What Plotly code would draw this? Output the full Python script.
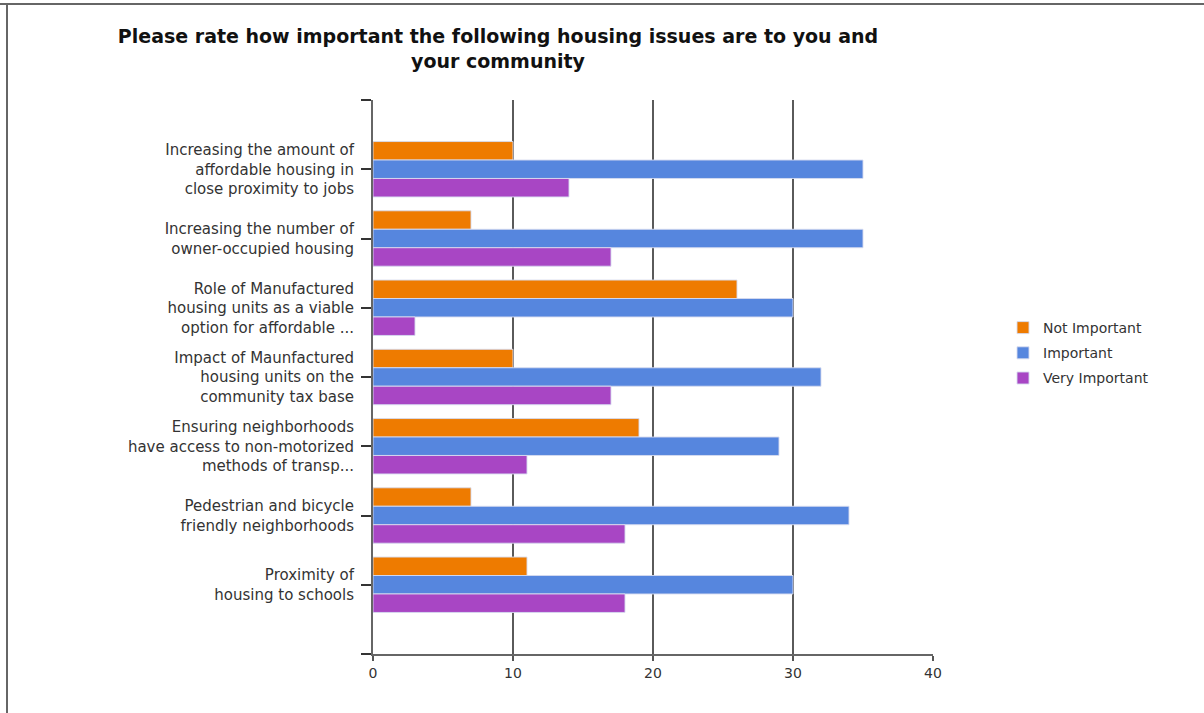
import plotly.graph_objects as go

categories = [
    "Increasing the amount of<br>affordable housing in<br>close proximity to jobs",
    "Increasing the number of<br>owner-occupied housing",
    "Role of Manufactured<br>housing units as a viable<br>option for affordable ...",
    "Impact of Maunfactured<br>housing units on the<br>community tax base",
    "Ensuring neighborhoods<br>have access to non-motorized<br>methods of transp...",
    "Pedestrian and bicycle<br>friendly neighborhoods",
    "Proximity of<br>housing to schools",
]
not_important = [10, 7, 26, 10, 19, 7, 11]
important = [35, 35, 30, 32, 29, 34, 30]
very_important = [14, 17, 3, 17, 11, 18, 18]
x_ticks = [0, 10, 20, 30, 40]

series = [
    ("Not Important", not_important, "#EE7B00"),
    ("Important", important, "#5686DE"),
    ("Very Important", very_important, "#A846C4"),
]

W, H = 1204, 713
L, R, T, B = 373, 933, 100, 654

pos = list(range(len(categories)))

fig = go.Figure()
for name, vals, col in series:
    fig.add_trace(go.Bar(
        y=pos, x=vals, name=name, orientation="h", legendgroup=name,
        marker=dict(color=col, line=dict(color="rgba(215,220,240,0.9)", width=1)),
    ))

font = "DejaVu Sans, Liberation Sans, Arial, sans-serif"

fig.update_layout(
    width=W, height=H,
    margin=dict(l=L, r=W - R, t=T, b=H - B, pad=0),
    paper_bgcolor="white", plot_bgcolor="white",
    barmode="group", bargap=0.2, bargroupgap=0,
    font=dict(family=font, size=15, color="#333333"),
    title=dict(
        text="<b>Please rate how important the following housing issues are to you and<br>your community</b>",
        x=498 / W, xref="container", xanchor="center",
        y=1 - 43 / H, yref="container", yanchor="top",
        font=dict(family=font, size=19, color="#111111"),
    ),
    legend=dict(
        x=(1003 - L) / (R - L), xanchor="left",
        y=(B - 353) / (B - T), yanchor="middle",
        font=dict(family=font, size=14, color="#333333"),
        traceorder="grouped", tracegroupgap=4,
        bgcolor="rgba(0,0,0,0)",
    ),
    xaxis=dict(
        range=[0, 40], tickvals=x_ticks, ticktext=[str(v) for v in x_ticks],
        showgrid=True, gridcolor="#5a5a5a", gridwidth=2,
        zeroline=False, showline=True, linecolor="#666666", linewidth=2,
        ticks="outside", ticklen=5, tickcolor="#555555", tickwidth=1.5,
        tickfont=dict(family=font, size=14, color="#333333"),
        fixedrange=True,
    ),
    yaxis=dict(
        range=[7, -1],
        tickvals=[-1] + pos + [7], ticktext=[""] + categories + [""],
        showgrid=False, zeroline=False,
        showline=True, linecolor="#666666", linewidth=2,
        ticks="outside", ticklen=10, tickcolor="#333333", tickwidth=1.5,
        ticklabelstandoff=4,
        tickfont=dict(family=font, size=15, color="#333333"),
        fixedrange=True,
    ),
)

# outer frame lines
px2x = lambda px: (px - L) / (R - L)
py2y = lambda py: (B - py) / (B - T)
fig.add_shape(type="line", xref="paper", yref="paper",
              x0=px2x(0), x1=px2x(W), y0=py2y(4), y1=py2y(4),
              line=dict(color="#666666", width=2))
fig.add_shape(type="line", xref="paper", yref="paper",
              x0=px2x(7), x1=px2x(7), y0=py2y(4), y1=py2y(H),
              line=dict(color="#666666", width=2))

fig.write_html("out.html")
